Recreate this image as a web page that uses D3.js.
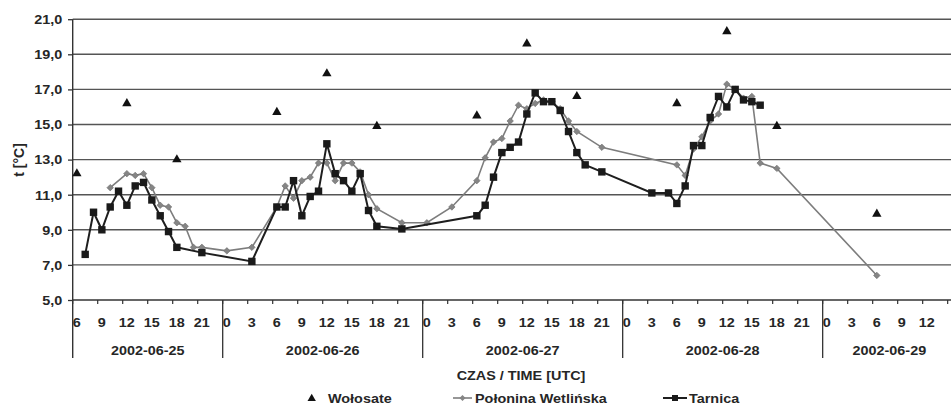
<!DOCTYPE html>
<html>
<head>
<meta charset="utf-8">
<script src="https://cdn.jsdelivr.net/npm/d3@7/dist/d3.min.js"></script>
<style>
  html, body { margin: 0; padding: 0; background: #ffffff; }
  svg { display: block; }
  text { font-family: "Liberation Sans", Arial, sans-serif; font-weight: bold; fill: #262626; }
</style>
</head>
<body>
<script>
// ---------------- DATA ----------------
const days = ["2002-06-25", "2002-06-26", "2002-06-27", "2002-06-28", "2002-06-29"];
const firstHour = 6;   // first hourly slot on the first day
const lastHour = 15;   // last hourly slot on the last day
const hourLabels = [
  ["6", "9", "12", "15", "18", "21"],
  ["0", "3", "6", "9", "12", "15", "18", "21"],
  ["0", "3", "6", "9", "12", "15", "18", "21"],
  ["0", "3", "6", "9", "12", "15", "18", "21"],
  ["0", "3", "6", "9", "12"]
];
const yTicks = [5, 7, 9, 11, 13, 15, 17, 19, 21];
const seriesNames = ["Wołosate", "Połonina Wetlińska", "Tarnica"];

const wolosate = [
  ["06-25 06", 12.2], ["06-25 12", 16.2], ["06-25 18", 13.0],
  ["06-26 06", 15.7], ["06-26 12", 17.9], ["06-26 18", 14.9],
  ["06-27 06", 15.5], ["06-27 12", 19.6], ["06-27 18", 16.6],
  ["06-28 06", 16.2], ["06-28 12", 20.3], ["06-28 18", 14.9],
  ["06-29 06", 9.9]
];

const polonina = [
  ["06-25 10", 11.4], ["06-25 12", 12.2], ["06-25 13", 12.1], ["06-25 14", 12.2], ["06-25 15", 11.4],
  ["06-25 16", 10.4], ["06-25 17", 10.3], ["06-25 18", 9.4], ["06-25 19", 9.2], ["06-25 20", 8.0], ["06-25 21", 8.0],
  ["06-26 00", 7.8], ["06-26 03", 8.0], ["06-26 06", 10.3], ["06-26 07", 11.5], ["06-26 08", 10.8], ["06-26 09", 11.8],
  ["06-26 10", 12.0], ["06-26 11", 12.8], ["06-26 12", 12.8], ["06-26 13", 11.8], ["06-26 14", 12.8], ["06-26 15", 12.8],
  ["06-26 16", 12.3], ["06-26 17", 11.0], ["06-26 18", 10.2], ["06-26 21", 9.4],
  ["06-27 00", 9.4], ["06-27 03", 10.3], ["06-27 06", 11.8], ["06-27 07", 13.1], ["06-27 08", 14.0], ["06-27 09", 14.2],
  ["06-27 10", 15.2], ["06-27 11", 16.1], ["06-27 12", 15.9], ["06-27 13", 16.2], ["06-27 14", 16.4], ["06-27 15", 16.3],
  ["06-27 16", 15.9], ["06-27 17", 15.2], ["06-27 18", 14.6], ["06-27 21", 13.7],
  ["06-28 06", 12.7], ["06-28 07", 12.1], ["06-28 08", 13.6], ["06-28 09", 14.3], ["06-28 10", 15.2], ["06-28 11", 15.6],
  ["06-28 12", 17.3], ["06-28 13", 17.0], ["06-28 14", 16.5], ["06-28 15", 16.6], ["06-28 16", 12.8], ["06-28 18", 12.5],
  ["06-29 06", 6.4]
];

const tarnica = [
  ["06-25 07", 7.6], ["06-25 08", 10.0], ["06-25 09", 9.0], ["06-25 10", 10.3], ["06-25 11", 11.2], ["06-25 12", 10.4],
  ["06-25 13", 11.5], ["06-25 14", 11.7], ["06-25 15", 10.7], ["06-25 16", 9.8], ["06-25 17", 8.9], ["06-25 18", 8.0],
  ["06-25 21", 7.7],
  ["06-26 03", 7.2], ["06-26 06", 10.3], ["06-26 07", 10.3], ["06-26 08", 11.8], ["06-26 09", 9.8], ["06-26 10", 10.9],
  ["06-26 11", 11.2], ["06-26 12", 13.9], ["06-26 13", 12.2], ["06-26 14", 11.8], ["06-26 15", 11.2], ["06-26 16", 12.2],
  ["06-26 17", 10.1], ["06-26 18", 9.2], ["06-26 21", 9.05],
  ["06-27 06", 9.8], ["06-27 07", 10.4], ["06-27 08", 12.0], ["06-27 09", 13.4], ["06-27 10", 13.7], ["06-27 11", 14.0],
  ["06-27 12", 15.6], ["06-27 13", 16.8], ["06-27 14", 16.3], ["06-27 15", 16.3], ["06-27 16", 15.8], ["06-27 17", 14.6],
  ["06-27 18", 13.4], ["06-27 19", 12.7], ["06-27 21", 12.3],
  ["06-28 03", 11.1], ["06-28 05", 11.1], ["06-28 06", 10.5], ["06-28 07", 11.5], ["06-28 08", 13.8], ["06-28 09", 13.8],
  ["06-28 10", 15.4], ["06-28 11", 16.6], ["06-28 12", 16.0], ["06-28 13", 17.0], ["06-28 14", 16.4], ["06-28 15", 16.3],
  ["06-28 16", 16.1]
];

// ---------------- LAYOUT ----------------
const W = 951, H = 405;
const left = 72.7, slotW = 8.333;
const yTop = 19.2, yBot = 300;
const SX = 1.2; // horizontal text stretch of the original figure

const slots = [];
days.forEach((d, i) => {
  const h0 = i === 0 ? firstHour : 0;
  const h1 = i === days.length - 1 ? lastHour : 23;
  for (let h = h0; h <= h1; h++) slots.push(d.slice(5) + " " + String(h).padStart(2, "0"));
});

const x = d3.scaleBand().domain(slots).range([left, left + slots.length * slotW]).padding(0);
const bw = x.bandwidth();
const cx = k => x(k) + bw / 2;
const y = d3.scaleLinear().domain([5, 21]).range([yBot, yTop]);

const svg = d3.select("body").append("svg").attr("width", W).attr("height", H);

function txt(g, px, py, s, anchor, size, sx) {
  return g.append("text")
    .attr("transform", `translate(${px},${py}) scale(${sx === undefined ? SX : sx},1)`)
    .attr("text-anchor", anchor)
    .style("font-size", size + "px")
    .text(s);
}

// gridlines
const grid = svg.append("g");
grid.selectAll("line").data(yTicks.filter(t => t > 5)).join("line")
  .attr("x1", left).attr("x2", W)
  .attr("y1", d => y(d)).attr("y2", d => y(d))
  .attr("stroke", "#555").attr("stroke-width", 1.4);

// y axis
const yAxis = svg.append("g").attr("transform", `translate(${left},0)`)
  .call(d3.axisLeft(y).tickValues(yTicks).tickSize(4.7).tickSizeOuter(0)
    .tickFormat(d => d.toFixed(1).replace(".", ",")));
yAxis.select(".domain").remove();
yAxis.selectAll(".tick line").attr("stroke", "#333").attr("stroke-width", 1.3);
yAxis.selectAll(".tick text")
  .attr("x", -10.5 / SX).attr("dy", "0.36em")
  .attr("transform", `scale(${SX},1)`)
  .style("font-size", "12px").style("font-family", "Liberation Sans, Arial, sans-serif")
  .style("font-weight", "bold").attr("fill", "#262626");

// axis lines
svg.append("line").attr("x1", left).attr("x2", left).attr("y1", yTop).attr("y2", 358)
  .attr("stroke", "#333").attr("stroke-width", 1.4);
svg.append("line").attr("x1", left).attr("x2", W).attr("y1", yBot).attr("y2", yBot)
  .attr("stroke", "#333").attr("stroke-width", 1.4);

// x ticks every 3 hours (at slot boundaries)
const xt = svg.append("g");
xt.selectAll("line").data(slots.filter(k => +k.slice(6) % 3 === 0)).join("line")
  .attr("x1", d => x(d)).attr("x2", d => x(d))
  .attr("y1", yBot).attr("y2", yBot + 4)
  .attr("stroke", "#333").attr("stroke-width", 1.2);

// day separators
svg.append("g").selectAll("line").data(days.slice(1)).join("line")
  .attr("x1", d => x(d.slice(5) + " 00")).attr("x2", d => x(d.slice(5) + " 00"))
  .attr("y1", yBot).attr("y2", 358)
  .attr("stroke", "#333").attr("stroke-width", 1.3);

// hour labels & day labels
const lab = svg.append("g");
days.forEach((d, i) => {
  hourLabels[i].forEach(h => {
    const k = d.slice(5) + " " + String(+h).padStart(2, "0");
    txt(lab, cx(k), 326.5, h, "middle", 12);
  });
  const daySlots = slots.filter(k => k.startsWith(d.slice(5)));
  const x0 = x(daySlots[0]), x1 = x(daySlots[daySlots.length - 1]) + bw;
  txt(lab, (x0 + x1) / 2, 355, d, "middle", 12);
});

// axis titles
txt(svg, 521, 380, "CZAS / TIME [UTC]", "middle", 12);
svg.append("text")
  .attr("transform", "translate(24,160) rotate(-90)")
  .attr("text-anchor", "middle").style("font-size", "14px")
  .text("t [°C]");

// series
const line = d3.line().x(d => cx(d[0])).y(d => y(d[1]));

svg.append("path").datum(polonina).attr("d", line)
  .attr("fill", "none").attr("stroke", "#7d7d7d").attr("stroke-width", 1.6);
svg.append("g").selectAll("path").data(polonina).join("path")
  .attr("d", d3.symbol(d3.symbolSquare, 21))
  .attr("transform", d => `translate(${cx(d[0])},${y(d[1])}) rotate(45)`)
  .attr("fill", "#858585").attr("stroke", "#6e6e6e").attr("stroke-width", 0.6);

svg.append("path").datum(tarnica).attr("d", line)
  .attr("fill", "none").attr("stroke", "#1e1e1e").attr("stroke-width", 2);
svg.append("g").selectAll("rect").data(tarnica).join("rect")
  .attr("x", d => cx(d[0]) - 3.7).attr("y", d => y(d[1]) - 3.7)
  .attr("width", 7.4).attr("height", 7.4)
  .attr("fill", "#1a1a1a");

svg.append("g").selectAll("path").data(wolosate).join("path")
  .attr("d", d3.symbol(d3.symbolTriangle, 38))
  .attr("transform", d => `translate(${cx(d[0])},${y(d[1])})`)
  .attr("fill", "#111");

// legend
const lg = svg.append("g");
lg.append("path").attr("d", d3.symbol(d3.symbolTriangle, 30))
  .attr("transform", "translate(311.7,398.5)").attr("fill", "#111");
txt(lg, 328, 403, seriesNames[0], "start", 12);

lg.append("line").attr("x1", 453).attr("x2", 472).attr("y1", 398).attr("y2", 398)
  .attr("stroke", "#7d7d7d").attr("stroke-width", 1.6);
lg.append("path").attr("d", d3.symbol(d3.symbolSquare, 18))
  .attr("transform", "translate(462.5,398) rotate(45)").attr("fill", "#858585");
txt(lg, 475, 403, seriesNames[1], "start", 12);

lg.append("line").attr("x1", 663).attr("x2", 687).attr("y1", 398).attr("y2", 398)
  .attr("stroke", "#1e1e1e").attr("stroke-width", 2);
lg.append("rect").attr("x", 672).attr("y", 395).attr("width", 6).attr("height", 6).attr("fill", "#1a1a1a");
txt(lg, 689, 403, seriesNames[2], "start", 12);
</script>
</body>
</html>
